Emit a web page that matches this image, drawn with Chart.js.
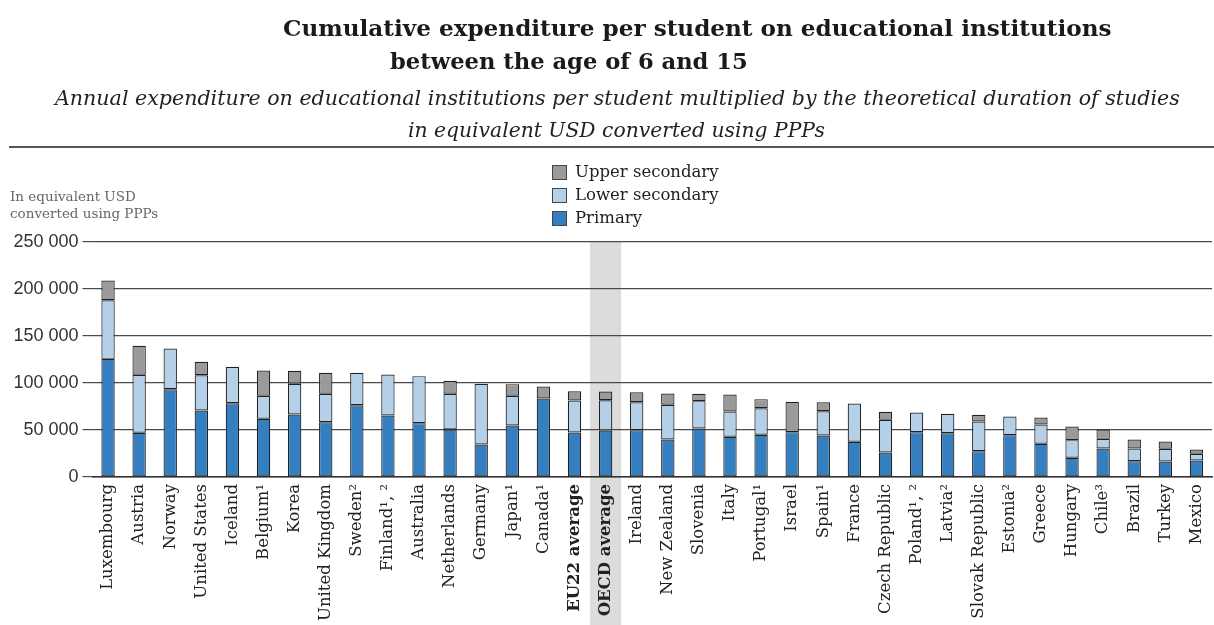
<!DOCTYPE html>
<html>
<head>
<meta charset="utf-8">
<script src="https://cdn.jsdelivr.net/npm/chart.js@4.4.1/dist/chart.umd.min.js"></script>
<style>
  html, body { margin:0; padding:0; background:#fff; }
  #wrap { position:relative; width:1214px; height:625px; overflow:hidden; }
  #chartBox { position:absolute; left:0; top:0; width:1214px; height:625px; }
  .t { position:absolute; white-space:nowrap; color:#1a1a1a; font-family:"DejaVu Serif", serif; line-height:1; }
  .title { font-weight:bold; }
  .sub { font-style:italic; color:#222; }
  #rule { position:absolute; left:9px; right:0; top:146px; height:2px; background:#555; }
  .unit { position:absolute; left:10px; font-family:"DejaVu Serif", serif; font-size:13.5px; color:#666; white-space:nowrap; line-height:1; }
  .lg { position:absolute; left:552px; font-family:"DejaVu Serif", serif; font-size:16.5px; color:#222; white-space:nowrap; line-height:1; }
  .lg i { position:absolute; left:0; width:15px; height:15px; border:1px solid #444; box-sizing:border-box; }
  .lg span { position:absolute; left:23px; }
</style>
</head>
<body>
<div id="wrap">
  <div id="chartBox"><canvas id="c"></canvas></div>
  <div class="t title" data-l="283" data-r="1112" data-cy="28">Cumulative expenditure per student on educational institutions</div>
  <div class="t title" data-l="390" data-r="748" data-cy="61">between the age of 6 and 15</div>
  <div class="t sub" data-l="55" data-r="1180" data-cy="98">Annual expenditure on educational institutions per student multiplied by the theoretical duration of studies</div>
  <div class="t sub" data-l="408" data-r="825" data-cy="130">in equivalent USD converted using PPPs</div>
  <div id="rule"></div>
  <div class="unit" style="top:190px">In equivalent USD</div>
  <div class="unit" style="top:207px">converted using PPPs</div>
  <div class="lg" style="top:165px"><i style="background:#9a9a9a"></i><span style="top:-1px">Upper secondary</span></div>
  <div class="lg" style="top:188px"><i style="background:#b4d0e8"></i><span style="top:-1px">Lower secondary</span></div>
  <div class="lg" style="top:211px"><i style="background:#357fc0"></i><span style="top:-1px">Primary</span></div>
</div>
<script>
// ---- Data ----
const categories = [
  "Luxembourg","Austria","Norway","United States","Iceland","Belgium\u00B9","Korea","United Kingdom",
  "Sweden\u00B2","Finland\u00B9, \u00B2","Australia","Netherlands","Germany","Japan\u00B9","Canada\u00B9",
  "EU22 average","OECD average","Ireland","New Zealand","Slovenia","Italy","Portugal\u00B9","Israel",
  "Spain\u00B9","France","Czech Republic","Poland\u00B9, \u00B2","Latvia\u00B2","Slovak Republic","Estonia\u00B2",
  "Greece","Hungary","Chile\u00B3","Brazil","Turkey","Mexico"
];
const primary = [
  125700,47000,93400,70700,78500,61900,66500,58300,76400,65400,57300,50500,34600,54800,83500,
  47300,49500,49800,39900,51600,42800,44900,47700,44200,37500,26100,47700,46600,27500,44500,
  35300,20400,30300,16800,16500,17600
];
const lowerSecondary = [
  62300,61700,43300,37600,38700,24500,32700,30200,34400,43600,50000,38000,64600,31600,null,
  34100,32200,29800,36900,29100,26900,28300,null,25800,40700,34800,20900,20600,31500,19900,
  20600,18800,10300,13500,13500,7100
];
const upperSecondary = [
  21000,30900,null,14200,null,26900,13800,22300,null,null,null,13800,null,12400,12800,
  9900,9300,10600,12000,7800,18100,9600,32300,9600,null,8500,null,null,7200,null,
  7400,14500,9900,9600,7800,4600
];
const yTicks = [0,50000,100000,150000,200000,250000];
const boldCategories = ["EU22 average","OECD average"];
const highlightCategory = "OECD average";

// ---- Fit title lines ----
document.querySelectorAll('.t').forEach(el => {
  const l = +el.dataset.l, r = +el.dataset.r, cy = +el.dataset.cy;
  let fs = 20;
  el.style.fontSize = fs + 'px';
  const w = el.getBoundingClientRect().width;
  fs = fs * (r - l) / w;
  el.style.fontSize = fs + 'px';
  const h = el.getBoundingClientRect().height;
  el.style.left = l + 'px';
  el.style.top = (cy - h / 2) + 'px';
});

// ---- Plugin: grey band behind OECD average ----
const bandPlugin = {
  id: 'band',
  beforeDraw(chart) {
    const x = chart.scales.x, y = chart.scales.y;
    const i = categories.indexOf(highlightCategory);
    const cx = x.getPixelForValue(i);
    const w = (x.getPixelForValue(1) - x.getPixelForValue(0));
    const ctx = chart.ctx;
    ctx.save();
    ctx.fillStyle = '#dcdcdc';
    ctx.fillRect(cx - w / 2, y.getPixelForValue(250000), w, chart.height);
    ctx.restore();
  }
};

const common = { borderColor:'#222', borderWidth:1.2, barPercentage:0.43, categoryPercentage:1, borderSkipped:false };

new Chart(document.getElementById('c'), {
  type: 'bar',
  data: {
    labels: categories,
    datasets: [
      Object.assign({ label:'Primary', data: primary, backgroundColor:'#357fc0' }, common),
      Object.assign({ label:'Lower secondary', data: lowerSecondary, backgroundColor:'#b4d0e8' }, common),
      Object.assign({ label:'Upper secondary', data: upperSecondary, backgroundColor:'#9a9a9a' }, common)
    ]
  },
  options: {
    responsive: true,
    maintainAspectRatio: false,
    animation: false,
    layout: { padding: { top: 242, right: 2, left: 0, bottom: 0 } },
    plugins: { legend: { display:false }, tooltip: { enabled:false }, title: { display:false } },
    scales: {
      x: {
        stacked: true,
        grid: { display:false, drawTicks:false },
        border: { display:true, color:'#333', width:1.5 },
        ticks: {
          autoSkip: false, maxRotation: 90, minRotation: 90, padding: 7, color:'#222',
          font: (c) => ({ family:'"DejaVu Serif", serif', size:16.5,
            weight: boldCategories.includes(categories[c.index]) ? 'bold' : 'normal' })
        },
        afterFit(s) { s.height = 148; s.paddingLeft = 0; s.paddingRight = 0; }
      },
      y: {
        stacked: true,
        min: 0, max: 250000,
        afterBuildTicks(s) { s.ticks = yTicks.map(v => ({ value: v })); },
        grid: { color:'#4a4a4a', lineWidth:1.2, tickLength:10, drawTicks:true },
        border: { display:false },
        ticks: {
          padding: 4, color:'#333',
          font: { family:'"Liberation Sans", Arial, sans-serif', size:18 },
          callback: (v) => String(v).replace(/\B(?=(\d{3})+(?!\d))/g, ' ')
        },
        afterFit(s) { s.width = 92.5; s.paddingTop = 0; s.paddingBottom = 0; }
      }
    }
  },
  plugins: [bandPlugin]
});
</script>
</body>
</html>
